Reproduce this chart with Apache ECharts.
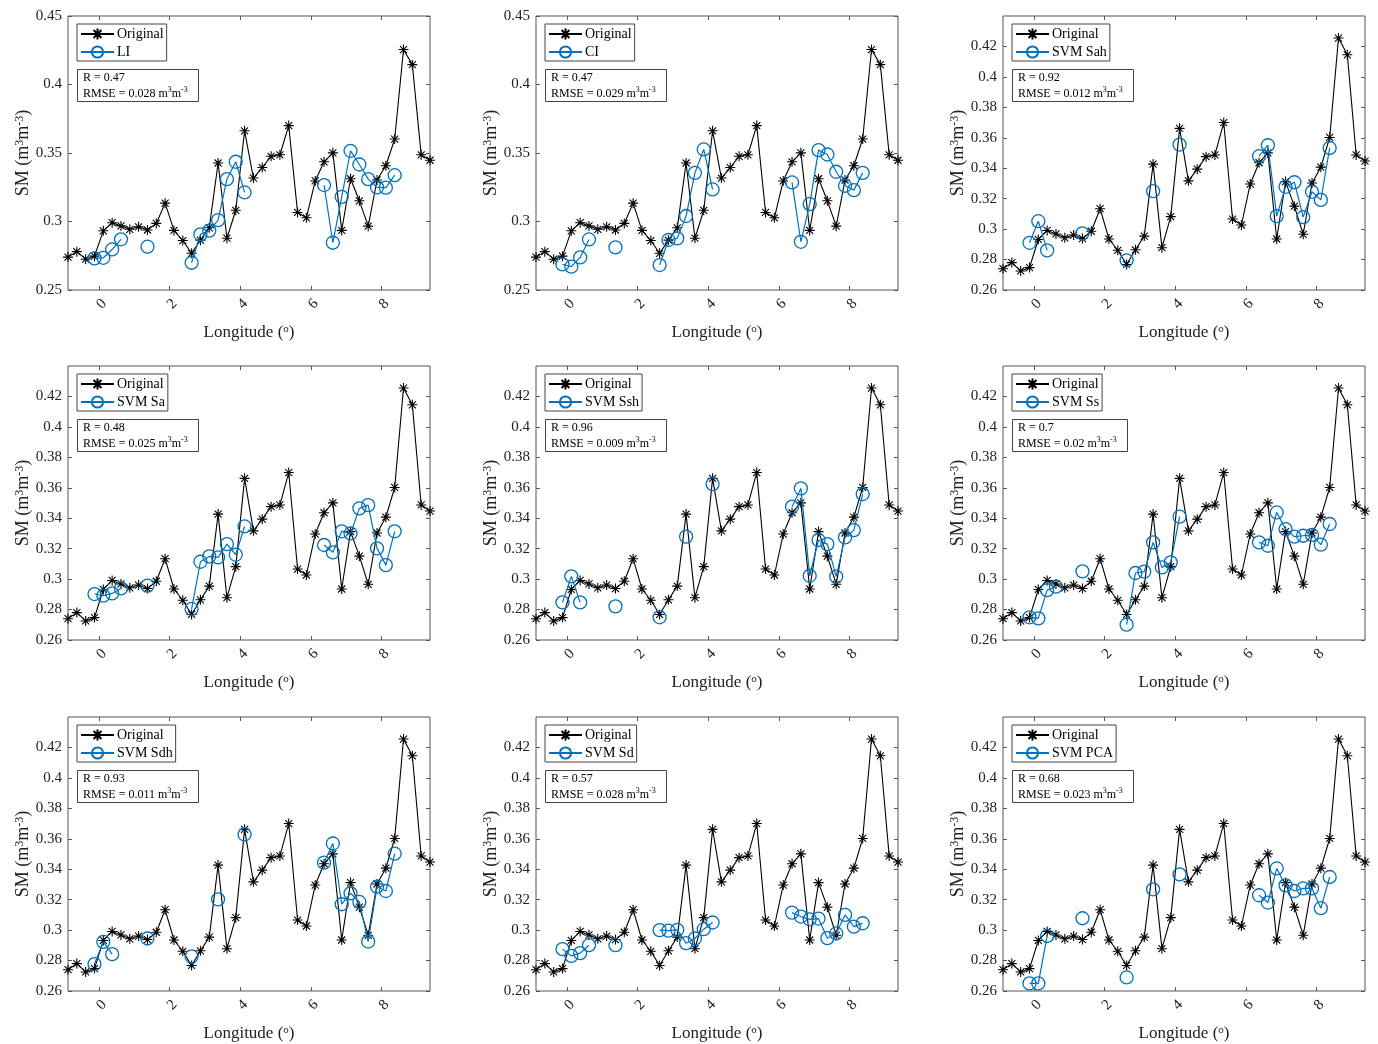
<!DOCTYPE html>
<html><head><meta charset="utf-8">
<script src="https://cdn.jsdelivr.net/npm/echarts@6/dist/echarts.min.js"></script>
<style>html,body{margin:0;padding:0;background:#fff}#c{width:1378px;height:1044px}</style>
</head><body><div id="c"></div>
<script>
// ---------------- DATA ----------------
const longitude = [-0.875,-0.625,-0.375,-0.125,0.125,0.375,0.625,0.875,1.125,1.375,1.625,1.875,2.125,2.375,2.625,2.875,3.125,3.375,3.625,3.875,4.125,4.375,4.625,4.875,5.125,5.375,5.625,5.875,6.125,6.375,6.625,6.875,7.125,7.375,7.625,7.875,8.125,8.375,8.625,8.875,9.125,9.375];
const original = [0.274,0.278,0.2725,0.2747,0.2932,0.2991,0.2968,0.2943,0.2961,0.2938,0.2986,0.3134,0.2935,0.2861,0.2768,0.2864,0.2954,0.3427,0.2878,0.3082,0.3662,0.3317,0.3394,0.3476,0.3487,0.370,0.3066,0.3027,0.3296,0.3436,0.3501,0.2935,0.3312,0.3151,0.2966,0.3303,0.3407,0.3602,0.4255,0.4145,0.3487,0.3447];
const li  = [null,null,null,0.2731,0.2735,0.2796,0.2870,null,null,0.2816,null,null,null,null,0.2699,0.2906,0.2933,0.3010,0.3309,0.3436,0.3212,null,null,null,null,null,null,null,null,0.3266,0.2845,0.3180,0.3516,0.3416,0.3309,0.3249,0.3247,0.3338,null,null,null,null];
const ci  = [null,null,null,0.2687,0.2670,0.2738,0.2869,null,null,0.2811,null,null,null,null,0.2682,0.2865,0.2877,0.3040,0.3355,0.3526,0.3234,null,null,null,null,null,null,null,null,0.3285,0.2852,0.3127,0.3521,0.3489,0.3363,0.3261,0.3229,0.3355,null,null,null,null];
const svmSah = [null,null,null,0.2910,0.3052,0.2860,null,null,null,0.2972,null,null,null,null,0.2795,null,null,0.3249,null,null,0.3555,null,null,null,null,null,null,null,null,0.3479,0.3551,0.3085,0.3278,0.3308,0.3079,0.3245,0.3192,0.3533,null,null,null,null];
const svmSa  = [null,null,null,0.2902,0.2891,0.2906,0.2939,null,null,0.2957,null,null,null,null,0.2804,0.3114,0.3149,0.3143,0.3230,0.3160,0.3346,null,null,null,null,null,null,null,null,0.3224,0.3176,0.3314,0.3300,0.3465,0.3486,0.3202,0.3092,0.3314,null,null,null,null];
const svmSsh = [null,null,null,0.2847,0.3018,0.2847,null,null,null,0.2821,null,null,null,null,0.2749,null,null,0.3279,null,null,0.3624,null,null,null,null,null,null,null,null,0.3476,0.3596,0.3022,0.3257,0.3230,0.3016,0.3274,0.3322,0.3559,null,null,null,null];
const svmSs  = [null,null,null,0.2749,0.2742,0.2928,0.2950,null,null,0.3051,null,null,null,null,0.2701,0.3040,0.3049,0.3241,0.3077,0.3110,0.3410,null,null,null,null,null,null,null,null,0.3241,0.3219,0.3438,0.3329,0.3279,0.3285,0.3290,0.3226,0.3362,null,null,null,null];
const svmSdh = [null,null,null,0.2777,0.2923,0.2842,null,null,null,0.2945,null,null,null,null,0.2827,null,null,0.3202,null,null,0.3628,null,null,null,null,null,null,null,null,0.3443,0.3569,0.3170,0.3242,0.3185,0.2925,0.3285,0.3257,0.3502,null,null,null,null];
const svmSd  = [null,null,null,0.2875,0.2831,0.2849,0.2901,null,null,0.2901,null,null,null,null,0.3000,0.2996,0.3002,0.2914,0.2945,0.3006,0.3050,null,null,null,null,null,null,null,null,0.3115,0.3089,0.3071,0.3076,0.2947,0.2978,0.3100,0.3023,0.3045,null,null,null,null];
const svmPca = [null,null,null,0.2650,0.2650,0.2962,null,null,null,0.3078,null,null,null,null,0.2689,null,null,0.3268,null,null,0.3366,null,null,null,null,null,null,null,null,0.3229,0.3181,0.3405,0.3294,0.3257,0.3274,0.3274,0.3144,0.3349,null,null,null,null];
const methodNames = ['LI','CI','SVM Sah','SVM Sa','SVM Ssh','SVM Ss','SVM Sdh','SVM Sd','SVM PCA'];
const methodValues = [li, ci, svmSah, svmSa, svmSsh, svmSs, svmSdh, svmSd, svmPca];
const rValues = ['0.47','0.47','0.92','0.48','0.96','0.7','0.93','0.57','0.68'];
const rmseValues = ['0.028','0.029','0.012','0.025','0.009','0.02','0.011','0.028','0.023'];
const xTicks = [0,2,4,6,8];
const yTicksWide = [0.25,0.3,0.35,0.4,0.45];
const yTicksNarrow = [0.26,0.28,0.3,0.32,0.34,0.36,0.38,0.4,0.42];
const yRangeWide = [0.25,0.45];
const yRangeNarrow = [0.26,0.44];

// ---------------- LAYOUT / STYLE ----------------
const colLeft = [68, 536, 1003];
const rowTop = [16, 366, 717];
const W = 362, H = 274;
const FONT = 'Liberation Serif';
const BLUE = '#0072BD';
const AXIS = '#555';
const ASTER = 'path://M10 0L10 20M0 10L20 10M3 3L17 17M3 17L17 3';

const nameRich = {
  a: {fontFamily: FONT, fontSize: 17, color: '#222', fontWeight: 'normal'},
  s: {fontFamily: FONT, fontSize: 11, color: '#222', verticalAlign: 'top', lineHeight: 6, fontWeight: 'normal'}
};
const yNameRich = {
  a: {fontFamily: FONT, fontSize: 18, color: '#222', fontWeight: 'normal'},
  s: {fontFamily: FONT, fontSize: 12, color: '#222', verticalAlign: 'top', lineHeight: 6, fontWeight: 'normal'}
};

const grid = [], xAxis = [], yAxis = [], series = [], legend = [], title = [];
for (let i = 0; i < 9; i++) {
  const L = colLeft[i % 3], T = rowTop[Math.floor(i / 3)];
  const wide = i < 2;
  const yr = wide ? yRangeWide : yRangeNarrow;
  const yt = wide ? yTicksWide : yTicksNarrow;
  grid.push({left: L, top: T, width: W, height: H, show: true, borderColor: AXIS, borderWidth: 1, backgroundColor: 'transparent'});
  const tickStyle = {lineStyle: {color: AXIS, width: 1}, inside: true, length: 4};
  const noLine = {show: false, onZero: false};
  // bottom x
  xAxis.push({
    type: 'value', gridIndex: i, min: longitude[0], max: longitude[longitude.length - 1], position: 'bottom',
    axisLine: noLine, splitLine: {show: false},
    axisTick: Object.assign({customValues: xTicks}, tickStyle),
    axisLabel: {customValues: xTicks, rotate: 45, margin: 6, align: 'right', verticalAlign: 'top',
      fontFamily: FONT, fontSize: 15, color: '#222'},
    name: '{a|Longitude (}{s|o}{a|)}', nameLocation: 'middle', nameGap: 34,
    nameTextStyle: {rich: nameRich}
  });
  // top x (mirror ticks)
  xAxis.push({
    type: 'value', gridIndex: i, min: longitude[0], max: longitude[longitude.length - 1], position: 'top',
    axisLine: noLine, splitLine: {show: false},
    axisTick: Object.assign({customValues: xTicks}, tickStyle),
    axisLabel: {show: false}
  });
  // left y
  yAxis.push({
    type: 'value', gridIndex: i, min: yr[0], max: yr[1], interval: wide ? 0.05 : 0.02, position: 'left',
    axisLine: noLine, splitLine: {show: false},
    axisTick: Object.assign({customValues: yt}, tickStyle),
    axisLabel: {customValues: yt, margin: 6, fontFamily: FONT, fontSize: 15, color: '#222'},
    name: '{a|SM (m}{s|3}{a|m}{s|-3}{a|)}', nameLocation: 'middle', nameGap: 36,
    nameTextStyle: {rich: yNameRich}
  });
  // right y (mirror ticks)
  yAxis.push({
    type: 'value', gridIndex: i, min: yr[0], max: yr[1], interval: wide ? 0.05 : 0.02, position: 'right',
    axisLine: noLine, splitLine: {show: false},
    axisTick: Object.assign({customValues: yt}, tickStyle),
    axisLabel: {show: false}
  });
  series.push({
    type: 'line', name: 'Original', xAxisIndex: 2 * i, yAxisIndex: 2 * i,
    data: longitude.map((x, k) => [x, original[k]]),
    symbol: ASTER, symbolSize: 10, showAllSymbol: true,
    lineStyle: {color: '#000', width: 1.1},
    itemStyle: {color: '#000', borderColor: '#000', borderWidth: 1.1},
    animation: false, silent: true, z: 2
  });
  const vals = methodValues[i];
  series.push({
    type: 'line', name: methodNames[i], xAxisIndex: 2 * i, yAxisIndex: 2 * i,
    data: longitude.map((x, k) => [x, vals[k] == null ? '-' : vals[k]]),
    symbol: 'circle', symbolSize: 13, showAllSymbol: true, connectNulls: false,
    lineStyle: {color: BLUE, width: 1.2},
    itemStyle: {color: 'rgba(255,255,255,0)', borderColor: BLUE, borderWidth: 1.3},
    animation: false, silent: true, z: 3
  });
  legend.push({
    left: L + 9, top: T + 8, orient: 'vertical', data: ['Original', methodNames[i]],
    itemWidth: 33, itemHeight: 14, itemGap: 4, padding: [3, 3, 2, 3],
    borderColor: '#444', borderWidth: 1, backgroundColor: '#fff', borderRadius: 0,
    selectedMode: false,
    textStyle: {fontFamily: FONT, fontSize: 14, color: '#000', padding: [0, 0, 0, -2]}
  });
  title.push({
    left: L + 9, top: T + 51,
    text: '{a|R = ' + rValues[i] + '}\n{a|RMSE = ' + rmseValues[i] + ' m}{s|3}{a|m}{s|-3}',
    padding: [3, 11, 2, 6], borderColor: '#444', borderWidth: 1, backgroundColor: '#fff',
    textStyle: {rich: {
      a: {fontFamily: FONT, fontSize: 12, color: '#000', lineHeight: 16, fontWeight: 'normal'},
      s: {fontFamily: FONT, fontSize: 8, color: '#000', lineHeight: 7, verticalAlign: 'top', fontWeight: 'normal'}
    }}
  });
}

const chart = echarts.init(document.getElementById('c'), null, {renderer: 'canvas'});
chart.setOption({animation: false, backgroundColor: '#fff', grid, xAxis, yAxis, series, legend, title});
</script>
</body></html>
